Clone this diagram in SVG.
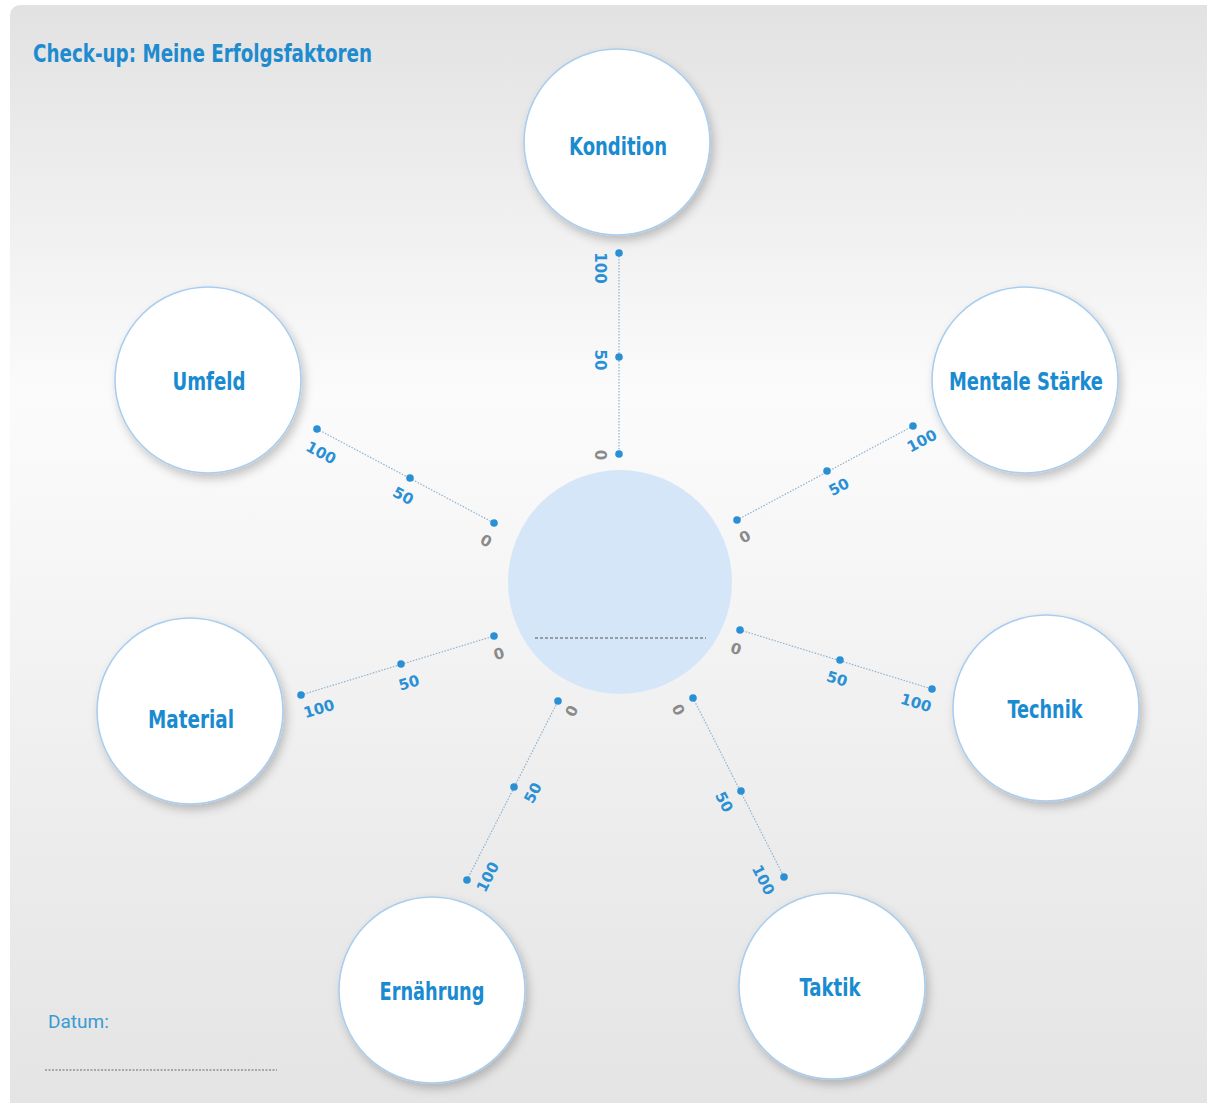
<svg xmlns="http://www.w3.org/2000/svg" width="1207" height="1103" viewBox="0 0 1207 1103">
<defs>
<linearGradient id="bg" x1="0" y1="0" x2="0" y2="1">
<stop offset="0" stop-color="#e2e2e2"/>
<stop offset="0.35" stop-color="#fbfbfb"/>
<stop offset="0.45" stop-color="#f8f8f8"/>
<stop offset="0.75" stop-color="#ececec"/>
<stop offset="1" stop-color="#e4e4e4"/>
</linearGradient>
<filter id="sh" x="-30%" y="-30%" width="160%" height="160%">
<feDropShadow dx="3" dy="5" stdDeviation="5" flood-color="#000" flood-opacity="0.22"/>
</filter>
<style>
.node{fill:#fff;stroke:#a9cdef;stroke-width:1.6;filter:url(#sh)}
.nt{font-family:"DejaVu Sans Condensed","DejaVu Sans",sans-serif;font-stretch:condensed;font-weight:bold;font-size:24px;fill:#1a8bd0;text-anchor:middle;dominant-baseline:central}
.ax{stroke:#8fb3cf;stroke-width:1.2;stroke-dasharray:1.5 1.5;fill:none}
.pt{fill:#2a90d6}
.lb{font-family:"DejaVu Sans",sans-serif;font-weight:bold;font-size:15px;fill:#2a90d6;text-anchor:middle;dominant-baseline:central}
.z{fill:#8a8a8a}
</style>
</defs>
<rect x="0" y="0" width="1207" height="1103" fill="#fff"/>
<rect x="10" y="5" width="1210" height="1110" rx="10" fill="url(#bg)"/>
<text x="33" y="62" font-family="'DejaVu Sans Condensed','DejaVu Sans',sans-serif" font-stretch="condensed" font-weight="bold" font-size="24" fill="#1f8bcf" textLength="339" lengthAdjust="spacingAndGlyphs">Check-up: Meine Erfolgsfaktoren</text>

<g id="connectors">
<line class="ax" x1="619" y1="253" x2="619" y2="454"/>
<line class="ax" x1="317" y1="429" x2="494" y2="523"/>
<line class="ax" x1="737" y1="520" x2="913" y2="426"/>
<line class="ax" x1="301" y1="695" x2="494" y2="636"/>
<line class="ax" x1="740" y1="630" x2="932" y2="689"/>
<line class="ax" x1="467" y1="880" x2="558" y2="701"/>
<line class="ax" x1="693" y1="698" x2="784" y2="877"/>
<g class="pt">
<circle cx="619" cy="253" r="3.8"/><circle cx="619" cy="357" r="3.8"/><circle cx="619" cy="454" r="3.8"/>
<circle cx="317" cy="429" r="3.8"/><circle cx="410" cy="478" r="3.8"/><circle cx="494" cy="523" r="3.8"/>
<circle cx="737" cy="520" r="3.8"/><circle cx="827" cy="471" r="3.8"/><circle cx="913" cy="426" r="3.8"/>
<circle cx="301" cy="695" r="3.8"/><circle cx="401" cy="664" r="3.8"/><circle cx="494" cy="636" r="3.8"/>
<circle cx="740" cy="630" r="3.8"/><circle cx="840" cy="660" r="3.8"/><circle cx="932" cy="689" r="3.8"/>
<circle cx="467" cy="880" r="3.8"/><circle cx="514" cy="787" r="3.8"/><circle cx="558" cy="701" r="3.8"/>
<circle cx="693" cy="698" r="3.8"/><circle cx="741" cy="791" r="3.8"/><circle cx="784" cy="877" r="3.8"/>
</g>
<text class="lb" transform="translate(600,268) rotate(90)">100</text>
<text class="lb" transform="translate(600,360) rotate(90)">50</text>
<text class="lb z" transform="translate(600,455) rotate(90)">0</text>

<text class="lb" transform="translate(321,453) rotate(28)">100</text>
<text class="lb" transform="translate(403,496) rotate(28)">50</text>
<text class="lb z" transform="translate(486,541) rotate(28)">0</text>

<text class="lb z" transform="translate(745,537) rotate(-28)">0</text>
<text class="lb" transform="translate(839,487) rotate(-28)">50</text>
<text class="lb" transform="translate(922,441) rotate(-28)">100</text>

<text class="lb z" transform="translate(499,654) rotate(-17)">0</text>
<text class="lb" transform="translate(409,683) rotate(-17)">50</text>
<text class="lb" transform="translate(319,709) rotate(-17)">100</text>

<text class="lb z" transform="translate(736,649) rotate(17)">0</text>
<text class="lb" transform="translate(837,679) rotate(17)">50</text>
<text class="lb" transform="translate(916,703) rotate(17)">100</text>

<text class="lb z" transform="translate(572,711) rotate(-63)">0</text>
<text class="lb" transform="translate(533,793) rotate(-63)">50</text>
<text class="lb" transform="translate(488,877) rotate(-63)">100</text>

<text class="lb z" transform="translate(678,710) rotate(63)">0</text>
<text class="lb" transform="translate(724,802) rotate(63)">50</text>
<text class="lb" transform="translate(763,880) rotate(63)">100</text>
</g>

<g id="center">
<circle cx="620" cy="582" r="112" fill="#d5e6f8"/>
<line x1="535" y1="638" x2="706" y2="638" stroke="#555" stroke-width="1" stroke-dasharray="3 2"/>
</g>

<g id="kondition"><circle class="node" cx="617" cy="142" r="93"/><text class="nt" x="618" y="147" textLength="98" lengthAdjust="spacingAndGlyphs">Kondition</text></g>
<g id="umfeld"><circle class="node" cx="208" cy="380" r="93"/><text class="nt" x="209" y="382" textLength="73" lengthAdjust="spacingAndGlyphs">Umfeld</text></g>
<g id="mentale"><circle class="node" cx="1025" cy="380" r="93"/><text class="nt" x="1026" y="382" textLength="154" lengthAdjust="spacingAndGlyphs">Mentale Stärke</text></g>
<g id="material"><circle class="node" cx="190" cy="711" r="93"/><text class="nt" x="191" y="720" textLength="86" lengthAdjust="spacingAndGlyphs">Material</text></g>
<g id="technik"><circle class="node" cx="1046" cy="708" r="93"/><text class="nt" x="1045" y="710" textLength="75" lengthAdjust="spacingAndGlyphs">Technik</text></g>
<g id="ernaehrung"><circle class="node" cx="432" cy="990" r="93"/><text class="nt" x="432" y="992" textLength="105" lengthAdjust="spacingAndGlyphs">Ernährung</text></g>
<g id="taktik"><circle class="node" cx="832" cy="986" r="93"/><text class="nt" x="830" y="988" textLength="61" lengthAdjust="spacingAndGlyphs">Taktik</text></g>

<g id="datum">
<text x="48" y="1028" font-family="Roboto,'Liberation Sans',sans-serif" font-size="19" fill="#3a9ad5">Datum:</text>
<line x1="45" y1="1070" x2="277" y2="1070" stroke="#666" stroke-width="1" stroke-dasharray="2 1.5"/>
</g>
</svg>
